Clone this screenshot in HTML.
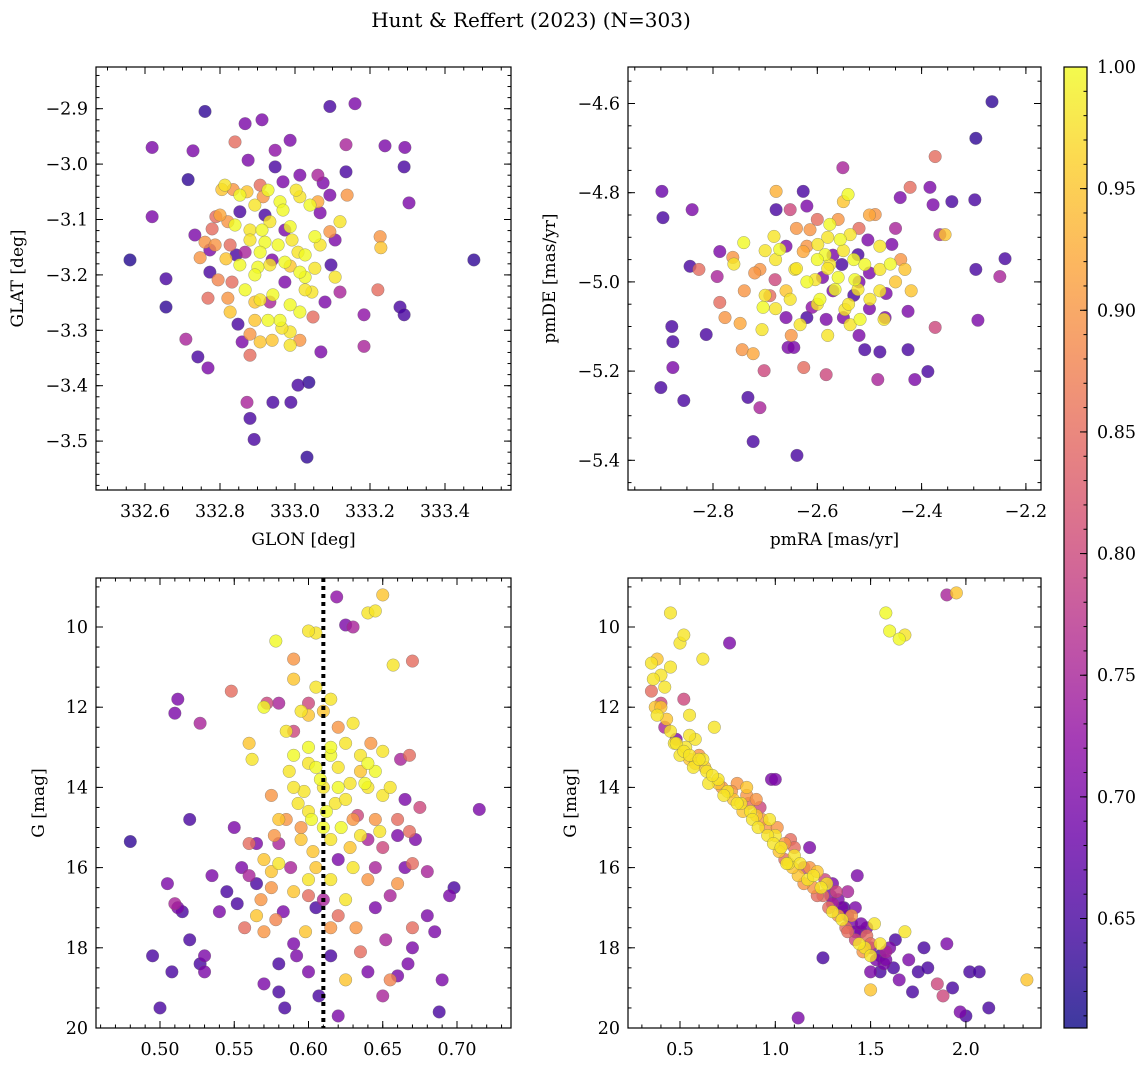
<!DOCTYPE html>
<html><head><meta charset="utf-8"><style>
html,body{margin:0;padding:0;background:#fff;}
svg text{font-family:"DejaVu Serif","Liberation Serif",serif;fill:#000;}
</style></head><body>
<svg id="fig" width="1148" height="1067" viewBox="0 0 1148 1067" xmlns="http://www.w3.org/2000/svg">
<text x="531" y="27" font-size="20" text-anchor="middle">Hunt &amp; Reffert (2023) (N=303)</text>
</svg>
<script>
// ---- Panel 1: GLON / GLAT ----
const glonA=[332.560,332.619,332.619,332.656,332.656,332.715,332.728,332.760,332.709,332.741,332.768,332.867,332.872,332.880,332.891,332.912,332.941,332.989,333.008,333.037,333.032,333.093,333.160,333.136,333.240,333.304,333.291,333.293,333.280,333.291,333.184,333.184,333.221,333.227,333.139,333.136,333.075,333.067,333.096,333.080,333.069,333.048,332.987,332.968,332.947,332.915,332.872,332.835,332.805,332.853,332.821,332.789,332.779,332.760,332.747,332.773,332.768,332.816,332.832,332.827,332.848,332.859,332.880,332.907,332.893,332.901,332.920,332.933,332.960,332.987,333.008,333.027,333.045,333.013,332.987,332.960,332.933,332.907,332.880,332.867,332.939,332.973,333.013,333.053,333.061,333.093,333.120,333.107,333.120,332.840,333.477,333.229];
const glatA=[-3.173,-3.095,-2.970,-3.207,-3.258,-3.028,-2.976,-2.905,-3.316,-3.348,-3.368,-2.927,-3.430,-3.459,-3.497,-2.920,-3.430,-3.430,-3.399,-3.394,-3.529,-2.896,-2.891,-2.965,-2.967,-3.070,-3.005,-2.970,-3.258,-3.272,-3.272,-3.329,-3.227,-3.131,-3.056,-3.014,-3.034,-3.088,-3.182,-3.249,-3.339,-3.276,-3.184,-3.032,-3.005,-3.059,-3.050,-3.046,-3.046,-3.086,-3.104,-3.095,-3.117,-3.141,-3.169,-3.195,-3.242,-3.171,-3.213,-3.267,-3.289,-3.321,-3.307,-3.321,-3.249,-3.186,-3.141,-3.104,-3.068,-3.113,-3.159,-3.204,-3.231,-3.267,-3.303,-3.282,-3.249,-3.159,-3.119,-3.159,-3.173,-3.213,-3.059,-3.131,-3.068,-3.122,-3.104,-3.204,-3.231,-2.960,-3.173,-3.151];
const prob1A=[.62,.7,.7,.65,.63,.63,.7,.63,.75,.65,.7,.7,.75,.65,.65,.7,.65,.65,.65,.63,.63,.65,.7,.75,.7,.7,.65,.7,.65,.65,.72,.75,.85,.9,.9,.65,.7,.7,.65,.7,.7,.85,.95,.7,.65,.9,.95,.9,.95,.65,.9,.85,.85,.9,.9,.65,.85,.95,.85,.95,.65,.7,.9,.95,.95,1,1,.98,1,1,.98,1,.98,1,.98,1,.75,1,.98,.75,.7,.7,.98,1,.92,.9,.98,.98,.75,.85,.63,.95];
const glonCore=[332.813,332.853,332.893,332.928,332.968,333.003,333.040,332.840,332.880,332.912,332.955,332.992,333.027,333.067,332.853,332.893,332.933,332.973,333.013,333.053,332.867,332.907,332.941,332.987,333.027,332.928,332.965,332.893,332.800,332.787,332.827,332.821,332.795,332.907,333.013,333.061,332.875,332.947,333.093,333.107,332.773,332.733,332.880,332.939,332.987,333.013,332.987,332.843,332.973,332.920];
const glatCore=[-3.038,-3.056,-3.074,-3.047,-3.083,-3.047,-3.074,-3.110,-3.137,-3.119,-3.146,-3.137,-3.164,-3.146,-3.182,-3.200,-3.182,-3.177,-3.195,-3.188,-3.227,-3.245,-3.236,-3.254,-3.227,-3.282,-3.296,-3.282,-3.092,-3.146,-3.146,-3.242,-3.209,-3.038,-3.020,-3.020,-2.993,-2.975,-3.056,-3.137,-3.155,-3.128,-3.345,-3.318,-3.327,-3.318,-2.957,-3.164,-3.119,-3.092];
const prob1Core=[.98,1,.98,1,1,.98,1,1,.98,1,1,.98,1,.98,1,1,.98,1,1,.98,1,.98,1,1,.98,1,.98,.95,.92,.9,.85,.9,.88,.85,.7,.75,.7,.72,.7,.7,.7,.7,.85,.95,.98,.9,.7,.65,.7,.65];
const glon=glonA.concat(glonCore), glat=glatA.concat(glatCore), prob1=prob1A.concat(prob1Core);
// ---- Panel 2: pmRA / pmDE ----
const pmraA=[-2.898,-2.896,-2.900,-2.879,-2.877,-2.877,-2.856,-2.840,-2.844,-2.827,-2.813,-2.792,-2.787,-2.777,-2.787,-2.762,-2.744,-2.748,-2.741,-2.733,-2.723,-2.723,-2.710,-2.702,-2.706,-2.704,-2.691,-2.683,-2.679,-2.679,-2.681,-2.652,-2.656,-2.645,-2.639,-2.627,-2.627,-2.626,-2.633,-2.614,-2.604,-2.595,-2.583,-2.585,-2.576,-2.566,-2.553,-2.551,-2.547,-2.541,-2.537,-2.528,-2.522,-2.518,-2.509,-2.503,-2.499,-2.489,-2.484,-2.480,-2.472,-2.468,-2.457,-2.441,-2.432,-2.426,-2.426,-2.422,-2.413,-2.388,-2.384,-2.374,-2.378,-2.374,-2.365,-2.355,-2.342,-2.298,-2.296,-2.292,-2.296,-2.265,-2.250,-2.240,-2.576,-2.556,-2.599,-2.509,-2.522,-2.643,-2.672,-2.610,-2.583,-2.537,-2.480,-2.652,-2.710];
const pmdeA=[-4.797,-4.856,-5.237,-5.100,-5.134,-5.192,-5.266,-4.838,-4.965,-4.972,-5.118,-4.988,-5.046,-5.080,-4.932,-4.945,-5.152,-5.093,-4.912,-5.259,-5.161,-5.358,-5.282,-5.199,-5.107,-5.057,-5.031,-4.898,-4.797,-4.838,-4.995,-4.838,-5.147,-5.147,-5.389,-4.797,-4.932,-5.192,-5.096,-4.883,-4.995,-5.039,-5.208,-4.939,-4.871,-5.017,-4.961,-4.744,-5.062,-4.804,-4.894,-4.995,-4.939,-5.084,-5.152,-4.906,-5.039,-4.849,-5.219,-5.157,-5.084,-5.026,-4.916,-4.811,-4.972,-5.066,-5.152,-4.788,-5.219,-5.201,-4.788,-4.719,-4.827,-5.102,-4.894,-4.894,-4.820,-4.816,-4.972,-5.086,-4.678,-4.596,-4.988,-4.948,-4.961,-4.905,-4.916,-4.961,-5.017,-4.972,-4.927,-5.057,-5.084,-5.096,-4.972,-5.039,-4.972];
const prob2A=[.68,.65,.65,.65,.65,.7,.65,.7,.65,.85,.65,.75,.85,.9,.7,.9,.9,.92,1.0,.65,.92,.65,.75,.8,.98,1.0,.85,.98,.93,.65,.8,.8,.7,.7,.65,.65,.92,.85,.98,.9,.98,1.0,.8,1.0,1.0,1.0,.65,.75,.98,1.0,.98,1.0,.65,1.0,.65,.7,.98,.9,.75,.65,.98,.7,.7,.7,.95,.7,.65,.85,.7,.65,.7,.85,.7,.8,.75,.95,.65,.65,.65,.7,.63,.63,.75,.65,.98,1,.98,1,.98,.98,1,.72,.7,.98,.98,.98,.9];
const pmraCore=[-2.60,-2.58,-2.56,-2.55,-2.53,-2.52,-2.57,-2.54,-2.60,-2.62,-2.64,-2.66,-2.68,-2.62,-2.58,-2.50,-2.48,-2.46,-2.50,-2.55,-2.62,-2.66,-2.70,-2.72,-2.70,-2.56,-2.52,-2.60,-2.64,-2.66,-2.48,-2.45,-2.42,-2.44,-2.58,-2.52,-2.65,-2.68,-2.74,-2.76,-2.55,-2.50,-2.62,-2.47,-2.53,-2.59,-2.57,-2.45];
const pmdeCore=[-4.95,-4.97,-4.99,-4.93,-4.95,-5.00,-5.02,-5.05,-5.05,-5.00,-4.97,-5.02,-4.95,-4.92,-4.90,-4.98,-5.02,-4.96,-5.06,-5.08,-5.08,-5.08,-5.03,-4.98,-4.93,-4.86,-4.88,-4.86,-4.88,-4.92,-4.92,-5.00,-5.02,-4.95,-5.12,-5.12,-5.12,-5.06,-5.02,-4.96,-4.82,-4.85,-4.83,-5.08,-5.03,-4.99,-4.94,-4.88];
const prob2Core=[1,.98,1,.98,1,.7,.7,.98,.98,1,.98,.95,.98,.9,.98,.7,.98,1,.7,.7,.65,.7,.98,.9,.98,.9,.85,.85,.9,.7,.98,.95,.95,.9,.98,.7,.9,.98,.9,.98,.95,.92,.7,.7,.65,.7,.7,.75];
const pmra=pmraA.concat(pmraCore), pmde=pmdeA.concat(pmdeCore), prob2=prob2A.concat(prob2Core);
// ---- Panel 3: Plx / G ----
const plxA=[0.48,0.495,0.50,0.505,0.508,0.51,0.512,0.515,0.512,0.51,0.52,0.52,0.527,0.53,0.53,0.527,0.535,0.54,0.545,0.548,0.552,0.555,0.557,0.56,0.56,0.562,0.565,0.565,0.57,0.568,0.57,0.572,0.575,0.577,0.578,0.578,0.58,0.58,0.58,0.58,0.583,0.584,0.585,0.587,0.588,0.59,0.59,0.59,0.592,0.593,0.595,0.595,0.597,0.598,0.6,0.6,0.602,0.603,0.605,0.605,0.607,0.608,0.61,0.61,0.619,0.615,0.615,0.618,0.62,0.62,0.62,0.622,0.625,0.625,0.628,0.63,0.63,0.632,0.633,0.635,0.635,0.638,0.64,0.64,0.642,0.645,0.645,0.645,0.648,0.65,0.65,0.652,0.655,0.655,0.657,0.66,0.662,0.665,0.665,0.667,0.668,0.668,0.67,0.67,0.672,0.68,0.685,0.688,0.69,0.695,0.698,0.715,0.6];
const gmag3A=[15.35,18.2,19.5,16.4,18.6,16.9,17.0,17.1,11.8,12.15,14.8,17.8,12.4,18.2,18.6,18.4,16.2,17.1,16.6,11.6,16.9,16.0,17.5,15.4,12.9,13.3,16.4,17.2,12.0,16.8,18.9,11.9,16.1,15.2,10.35,17.3,14.8,15.4,18.4,19.1,17.1,19.5,12.6,13.6,16.0,10.8,12.6,16.6,18.2,14.4,12.1,15.0,14.1,17.6,16.7,13.4,14.8,15.6,10.15,16.0,19.2,13.8,15.0,12.1,9.25,13.2,16.3,14.4,13.5,17.2,19.7,15.0,12.9,18.8,13.9,10.0,16.0,17.5,14.7,13.2,18.1,13.9,9.65,15.3,12.9,9.6,13.6,17.0,15.1,9.2,14.2,17.8,18.8,16.7,10.95,15.2,13.3,14.3,16.0,18.4,15.1,13.2,10.85,17.5,15.3,16.1,17.6,19.6,18.8,16.7,16.5,14.55,12.2];
const prob3A=[.63,.65,.65,.7,.65,.75,.7,.65,.7,.7,.65,.65,.75,.7,.7,.65,.7,.7,.65,.85,.65,.7,.85,.85,.95,.98,.65,.95,1.0,.9,.7,.8,.95,.9,1.0,.88,.95,.75,.65,.65,.7,.65,.98,.98,.75,.9,.8,.95,.7,.98,.98,.9,.98,.95,.85,.98,1.0,.95,.98,.95,.65,1.0,1.0,.95,.72,1.0,.98,.98,.98,.85,.7,1.0,.98,.95,.98,.75,.98,.9,.8,.98,.85,1.0,.98,.75,.9,.98,1.0,.7,.98,.95,.98,.75,.88,.75,.98,.7,.75,.7,.7,.7,.85,.85,.85,.85,.7,.75,.7,.65,.7,.7,.65,.7,.95];
const plxCore=[0.60,0.605,0.61,0.612,0.615,0.6,0.595,0.62,0.625,0.63,0.628,0.635,0.64,0.64,0.645,0.65,0.65,0.655,0.66,0.59,0.585,0.58,0.575,0.57,0.565,0.59,0.6,0.605,0.615,0.62,0.63,0.6,0.61,0.615,0.625,0.64,0.645,0.66,0.67,0.675,0.59,0.6,0.615,0.64,0.65,0.66,0.67,0.68,0.62,0.605,0.55,0.56,0.575,0.58,0.59,0.6,0.625,0.635,0.615,0.57];
const gmag3Core=[13.0,13.5,14.0,14.6,15.3,14.6,15.3,14.0,14.3,14.8,15.5,15.2,14.0,13.4,14.8,15.5,13.1,14.0,14.8,14.0,14.8,15.9,16.5,15.8,15.4,13.2,11.9,11.5,11.8,12.5,12.4,16.3,16.8,17.5,16.8,16.3,16.0,16.4,15.9,14.5,17.9,18.6,18.2,18.6,19.2,18.7,18.0,17.2,15.8,17.0,15.0,16.2,14.2,11.9,11.3,10.1,9.95,13.6,13.0,17.6];
const prob3Core=[1,1,.98,1,.98,.98,.95,1,.98,.9,.95,.98,.98,1,.9,.8,.98,.98,.85,.98,.9,.98,.9,.95,.7,1,.8,.98,.98,.9,.98,.98,.75,.9,.98,.9,.75,.9,.85,.8,.7,.7,.65,.7,.75,.7,.7,.7,.7,.65,.7,.75,.9,.75,.95,.98,.7,.95,1,.9];
const plx=plxA.concat(plxCore), gmag3=gmag3A.concat(gmag3Core), prob3=prob3A.concat(prob3Core);
const plxLine=[0.61];
// ---- Panel 4: BP-RP / G ----
const bprpA=[0.35,0.35,0.37,0.38,0.4,0.4,0.42,0.43,0.45,0.45,0.47,0.48,0.5,0.52,0.5,0.52,0.53,0.55,0.55,0.57,0.58,0.6,0.62,0.63,0.62,0.65,0.68,0.7,0.72,0.75,0.76,0.78,0.8,0.82,0.85,0.87,0.9,0.92,0.95,0.97,0.98,1.0,1.02,1.05,1.07,1.08,1.1,1.12,1.12,1.15,1.17,1.18,1.2,1.22,1.25,1.25,1.27,1.28,1.3,1.32,1.33,1.35,1.37,1.38,1.4,1.42,1.43,1.45,1.47,1.48,1.5,1.5,1.5,1.52,1.55,1.55,1.57,1.58,1.6,1.58,1.62,1.65,1.65,1.68,1.68,1.7,1.72,1.75,1.78,1.8,1.85,1.88,1.9,1.9,1.93,1.95,1.97,2.0,2.02,2.07,2.12,2.32];
const gmag4A=[11.6,10.9,12.0,12.2,11.2,11.9,12.5,12.3,9.65,11.0,12.9,12.8,10.4,10.2,13.2,11.8,13.0,13.3,12.2,13.5,12.8,13.2,13.3,13.5,10.8,13.9,12.5,13.8,14.0,14.1,10.4,14.3,13.9,14.4,14.2,14.6,14.7,14.5,15.0,14.8,13.8,15.2,15.6,15.4,15.9,15.3,15.7,16.2,19.75,16.0,16.3,15.5,16.5,16.1,16.7,18.25,16.4,17.0,16.9,16.6,17.2,17.0,17.5,17.2,17.4,17.8,16.2,17.6,18.0,17.7,18.0,18.6,19.05,17.4,18.2,17.9,18.4,18.1,10.1,9.65,18.5,10.3,18.8,10.2,17.6,18.3,19.1,18.6,18.0,18.5,18.9,19.2,9.2,17.9,19.0,9.15,19.6,19.7,18.6,18.6,19.5,18.8];
const prob4A=[.85,.98,.95,.98,.98,.8,.75,.95,.98,.98,.98,.7,.98,.98,.98,.8,.98,.95,.98,.98,.98,.9,.98,.95,.98,.98,.98,.98,.9,.98,.7,.95,.9,.98,.9,.98,.95,.8,.9,.98,.7,.98,.95,.9,.98,.85,.98,.95,.7,.8,.98,.7,.9,.95,.85,.65,.98,.85,.75,.8,.9,.7,.85,.7,.7,.8,.7,.7,.98,.85,.7,.7,.95,.98,.65,.98,.7,.75,1.0,1.0,.65,1.0,.7,.98,.98,.7,.65,.65,.65,.65,.8,.8,.75,.7,.65,.95,.7,.65,.65,.65,.65,.95];
const bprpCore=[0.4,0.45,0.48,0.52,0.55,0.58,0.6,0.64,0.67,0.7,0.73,0.77,0.8,0.83,0.86,0.88,0.91,0.93,0.96,0.99,1.01,1.03,1.05,1.06,1.09,1.1,1.13,1.15,1.18,1.2,1.22,1.24,1.26,1.29,1.3,1.33,1.35,1.36,1.38,1.4,1.42,1.44,1.46,1.48,1.5,1.53,1.55,1.58,1.6,1.63,1.5,1.45,1.42,1.38,1.3,1.0,0.9,0.85,0.55,0.42,0.36,0.38];
const gmag4Core=[12.0,12.6,12.9,13.1,13.2,13.4,13.3,13.6,13.7,13.9,14.2,14.1,14.4,14.6,14.4,14.8,15.0,14.8,15.2,15.4,15.0,15.5,15.8,15.9,16.0,15.5,15.9,16.4,16.0,16.2,16.7,16.5,16.3,16.7,17.1,16.8,17.3,17.0,17.6,17.2,17.6,17.9,18.1,17.5,17.9,18.3,18.6,18.3,18.0,17.8,18.2,17.4,17.0,16.6,16.4,13.8,14.3,14.0,12.7,11.5,11.3,10.8];
const prob4Core=[.95,.98,.98,.98,.98,.95,.98,.98,.98,.95,.98,.9,.98,.95,.85,.98,.98,.9,.98,.98,.9,.98,.85,.98,.95,.85,.98,.9,.9,.98,.85,.98,.8,.7,.98,.7,.98,.65,.85,.9,.7,.98,.9,.7,.85,.7,.65,.7,.7,.65,.98,.7,.7,.75,.7,.7,.9,.95,.98,.98,.98,.95];
const bprp=bprpA.concat(bprpCore), gmag4=gmag4A.concat(gmag4Core), prob4=prob4A.concat(prob4Core);
// ---- Colorbar ----
const cbTicks=[0.65,0.70,0.75,0.80,0.85,0.90,0.95,1.00];
const cbMin=0.605, cbMax=1.0;

const NS="http://www.w3.org/2000/svg";
const svg=document.getElementById('fig');
function el(tag,attrs,parent){const e=document.createElementNS(NS,tag);for(const k in attrs)e.setAttribute(k,attrs[k]);(parent||svg).appendChild(e);return e;}
const plasma=[[13,8,135],[65,4,157],[106,0,168],[143,13,164],[177,42,144],[204,71,120],[225,100,98],[242,132,75],[252,166,54],[252,206,37],[240,249,33]];
function cmap(t){t=Math.max(0,Math.min(1,t));const s=t*10,i=Math.min(9,Math.floor(s)),f=s-i;const a=plasma[i],b=plasma[i+1];return 'rgb('+[0,1,2].map(k=>Math.round(a[k]+(b[k]-a[k])*f)).join(',')+')';}
function norm(p){return (p-cbMin)/(cbMax-cbMin);}
function lin(v0,p0,s){return v=>p0+(v-v0)*s;}
function fmt(v,d){let s=v.toFixed(d);if(v<0)s='\u2212'+s.slice(1);return s;}

function panel(cfg){
  const g=el('g',{});
  
  
  const {L,T,R,B}=cfg;
  const sx=cfg.sx, sy=cfg.sy;
  const clipId='clip-'+cfg.name;
  const cp=el('clipPath',{id:clipId},g);el('rect',{x:L,y:T,width:R-L,height:B-T},cp);
  const pts=el('g',{'clip-path':'url(#'+clipId+')'},g);
  
  
  const idx=cfg.xs.map((_,i)=>i).sort((a,b)=>cfg.cs[a]-cfg.cs[b]);
  idx.forEach(i=>{
    const c=el('circle',{cx:sx(cfg.xs[i]),cy:sy(cfg.ys[i]),r:6.3,fill:cmap(norm(cfg.cs[i])),'fill-opacity':0.8,stroke:'#666','stroke-width':0.5,'stroke-opacity':0.6},pts);
    
    
  });
  if(cfg.vline){cfg.vline.forEach(v=>{const ln=el('line',{x1:sx(v),x2:sx(v),y1:T,y2:B,stroke:'#000','stroke-width':4,'stroke-dasharray':'4 4'},g);
    
    });}
  const tk=el('g',{stroke:'#000','stroke-width':1},g);
  
  
  function ticksX(step,len,lo,hi){for(let k=Math.ceil(lo/step-1e-6);k*step<=hi+1e-9;k++){const x=sx(k*step);if(x<L-0.5||x>R+0.5)continue;el('line',{x1:x,x2:x,y1:B,y2:B-len},tk);el('line',{x1:x,x2:x,y1:T,y2:T+len},tk);}}
  function ticksY(step,len,lo,hi){for(let k=Math.ceil(lo/step-1e-6);k*step<=hi+1e-9;k++){const y=sy(k*step);if(y<T-0.5||y>B+0.5)continue;el('line',{x1:L,x2:L+len,y1:y,y2:y},tk);el('line',{x1:R,x2:R-len,y1:y,y2:y},tk);}}
  ticksX(cfg.xminor,3.5,cfg.xlo,cfg.xhi);ticksX(cfg.xmajor,7,cfg.xlo,cfg.xhi);
  ticksY(cfg.yminor,3.5,cfg.ylo,cfg.yhi);ticksY(cfg.ymajor,7,cfg.ylo,cfg.yhi);
  cfg.xlabels.forEach(v=>{const t=el('text',{x:sx(v),y:B+27,'font-size':17.5,'text-anchor':'middle'},g);t.textContent=fmt(v,cfg.xd);
    
    });
  cfg.ylabels.forEach(v=>{const t=el('text',{x:L-8,y:sy(v)+6,'font-size':17.5,'text-anchor':'end'},g);t.textContent=fmt(v,cfg.yd);
    
    });
  el('rect',{x:L,y:T,width:R-L,height:B-T,fill:'none',stroke:'#000','stroke-width':1.2},g);
  const xt=el('text',{x:(L+R)/2,y:B+55,'font-size':17,'text-anchor':'middle'},g);xt.textContent=cfg.xtitle;
  
  
  const yt=el('text',{x:0,y:0,'font-size':17,'text-anchor':'middle',transform:'translate('+cfg.ytx+','+(T+B)/2+') rotate(-90)'},g);yt.textContent=cfg.ytitle;
  
  
}

panel({name:'panel-glon-glat',L:96,T:67,R:511,B:490,sx:lin(332.6,145,375),sy:lin(-2.9,108.7,-554),xs:glon,ys:glat,cs:prob1,
  xminor:0.05,xmajor:0.2,xlo:332.4,xhi:333.6,yminor:0.02,ymajor:0.1,ylo:-3.6,yhi:-2.8,
  xlabels:[332.6,332.8,333.0,333.2,333.4],xd:1,ylabels:[-2.9,-3.0,-3.1,-3.2,-3.3,-3.4,-3.5],yd:1,xtitle:'GLON [deg]',ytitle:'GLAT [deg]',ytx:23});
panel({name:'panel-pmra-pmde',L:628,T:67,R:1041,B:490,sx:lin(-2.8,713,521.5),sy:lin(-4.6,103.5,-446),xs:pmra,ys:pmde,cs:prob2,
  xminor:0.05,xmajor:0.2,xlo:-3.0,xhi:-2.1,yminor:0.05,ymajor:0.2,ylo:-5.5,yhi:-4.5,
  xlabels:[-2.8,-2.6,-2.4,-2.2],xd:1,ylabels:[-4.6,-4.8,-5.0,-5.2,-5.4],yd:1,xtitle:'pmRA [mas/yr]',ytitle:'pmDE [mas/yr]',ytx:555});
panel({name:'panel-plx-g',L:96,T:578,R:511,B:1028,sx:lin(0.5,160,1485),sy:lin(10,627,40.1),xs:plx,ys:gmag3,cs:prob3,vline:plxLine,
  xminor:0.01,xmajor:0.05,xlo:0.44,xhi:0.75,yminor:0.5,ymajor:2,ylo:8,yhi:20,
  xlabels:[0.50,0.55,0.60,0.65,0.70],xd:2,ylabels:[10,12,14,16,18,20],yd:0,xtitle:'Plx [mas]',ytitle:'G [mag]',ytx:44});
panel({name:'panel-bprp-g',L:628,T:578,R:1041,B:1028,sx:lin(0.5,680,190.6),sy:lin(10,627,40.1),xs:bprp,ys:gmag4,cs:prob4,
  xminor:0.1,xmajor:0.5,xlo:0.2,xhi:2.5,yminor:0.5,ymajor:2,ylo:8,yhi:20,
  xlabels:[0.5,1.0,1.5,2.0],xd:1,ylabels:[10,12,14,16,18,20],yd:0,xtitle:'BP-RP [mag]',ytitle:'G [mag]',ytx:576});

(function(){
  const L=1064,R=1087,T=67,B=1028;
  const g=el('g',{});
  
  
  const defs=el('defs',{},g);
  const lg=el('linearGradient',{id:'cbgrad',x1:0,y1:1,x2:0,y2:0},defs);
  for(let i=0;i<=20;i++){el('stop',{offset:i/20,'stop-color':cmap(i/20),'stop-opacity':0.8},lg);}
  el('rect',{x:L,y:T,width:R-L,height:B-T,fill:'url(#cbgrad)'},g);
  const cy=v=>B-(v-cbMin)/(cbMax-cbMin)*(B-T);
  for(let k=61;k<=100;k++){const y=cy(k/100);el('line',{x1:R,x2:R-3.5,y1:y,y2:y,stroke:'#000','stroke-width':1},g);}
  cbTicks.forEach(v=>{const y=cy(v);el('line',{x1:R,x2:R-7,y1:y,y2:y,stroke:'#000','stroke-width':1},g);
    const t=el('text',{x:R+10,y:y+6,'font-size':17.5},g);t.textContent=v.toFixed(2);
    
    });
  el('rect',{x:L,y:T,width:R-L,height:B-T,fill:'none',stroke:'#000','stroke-width':1.2},g);
})();
</script>
</body></html>
